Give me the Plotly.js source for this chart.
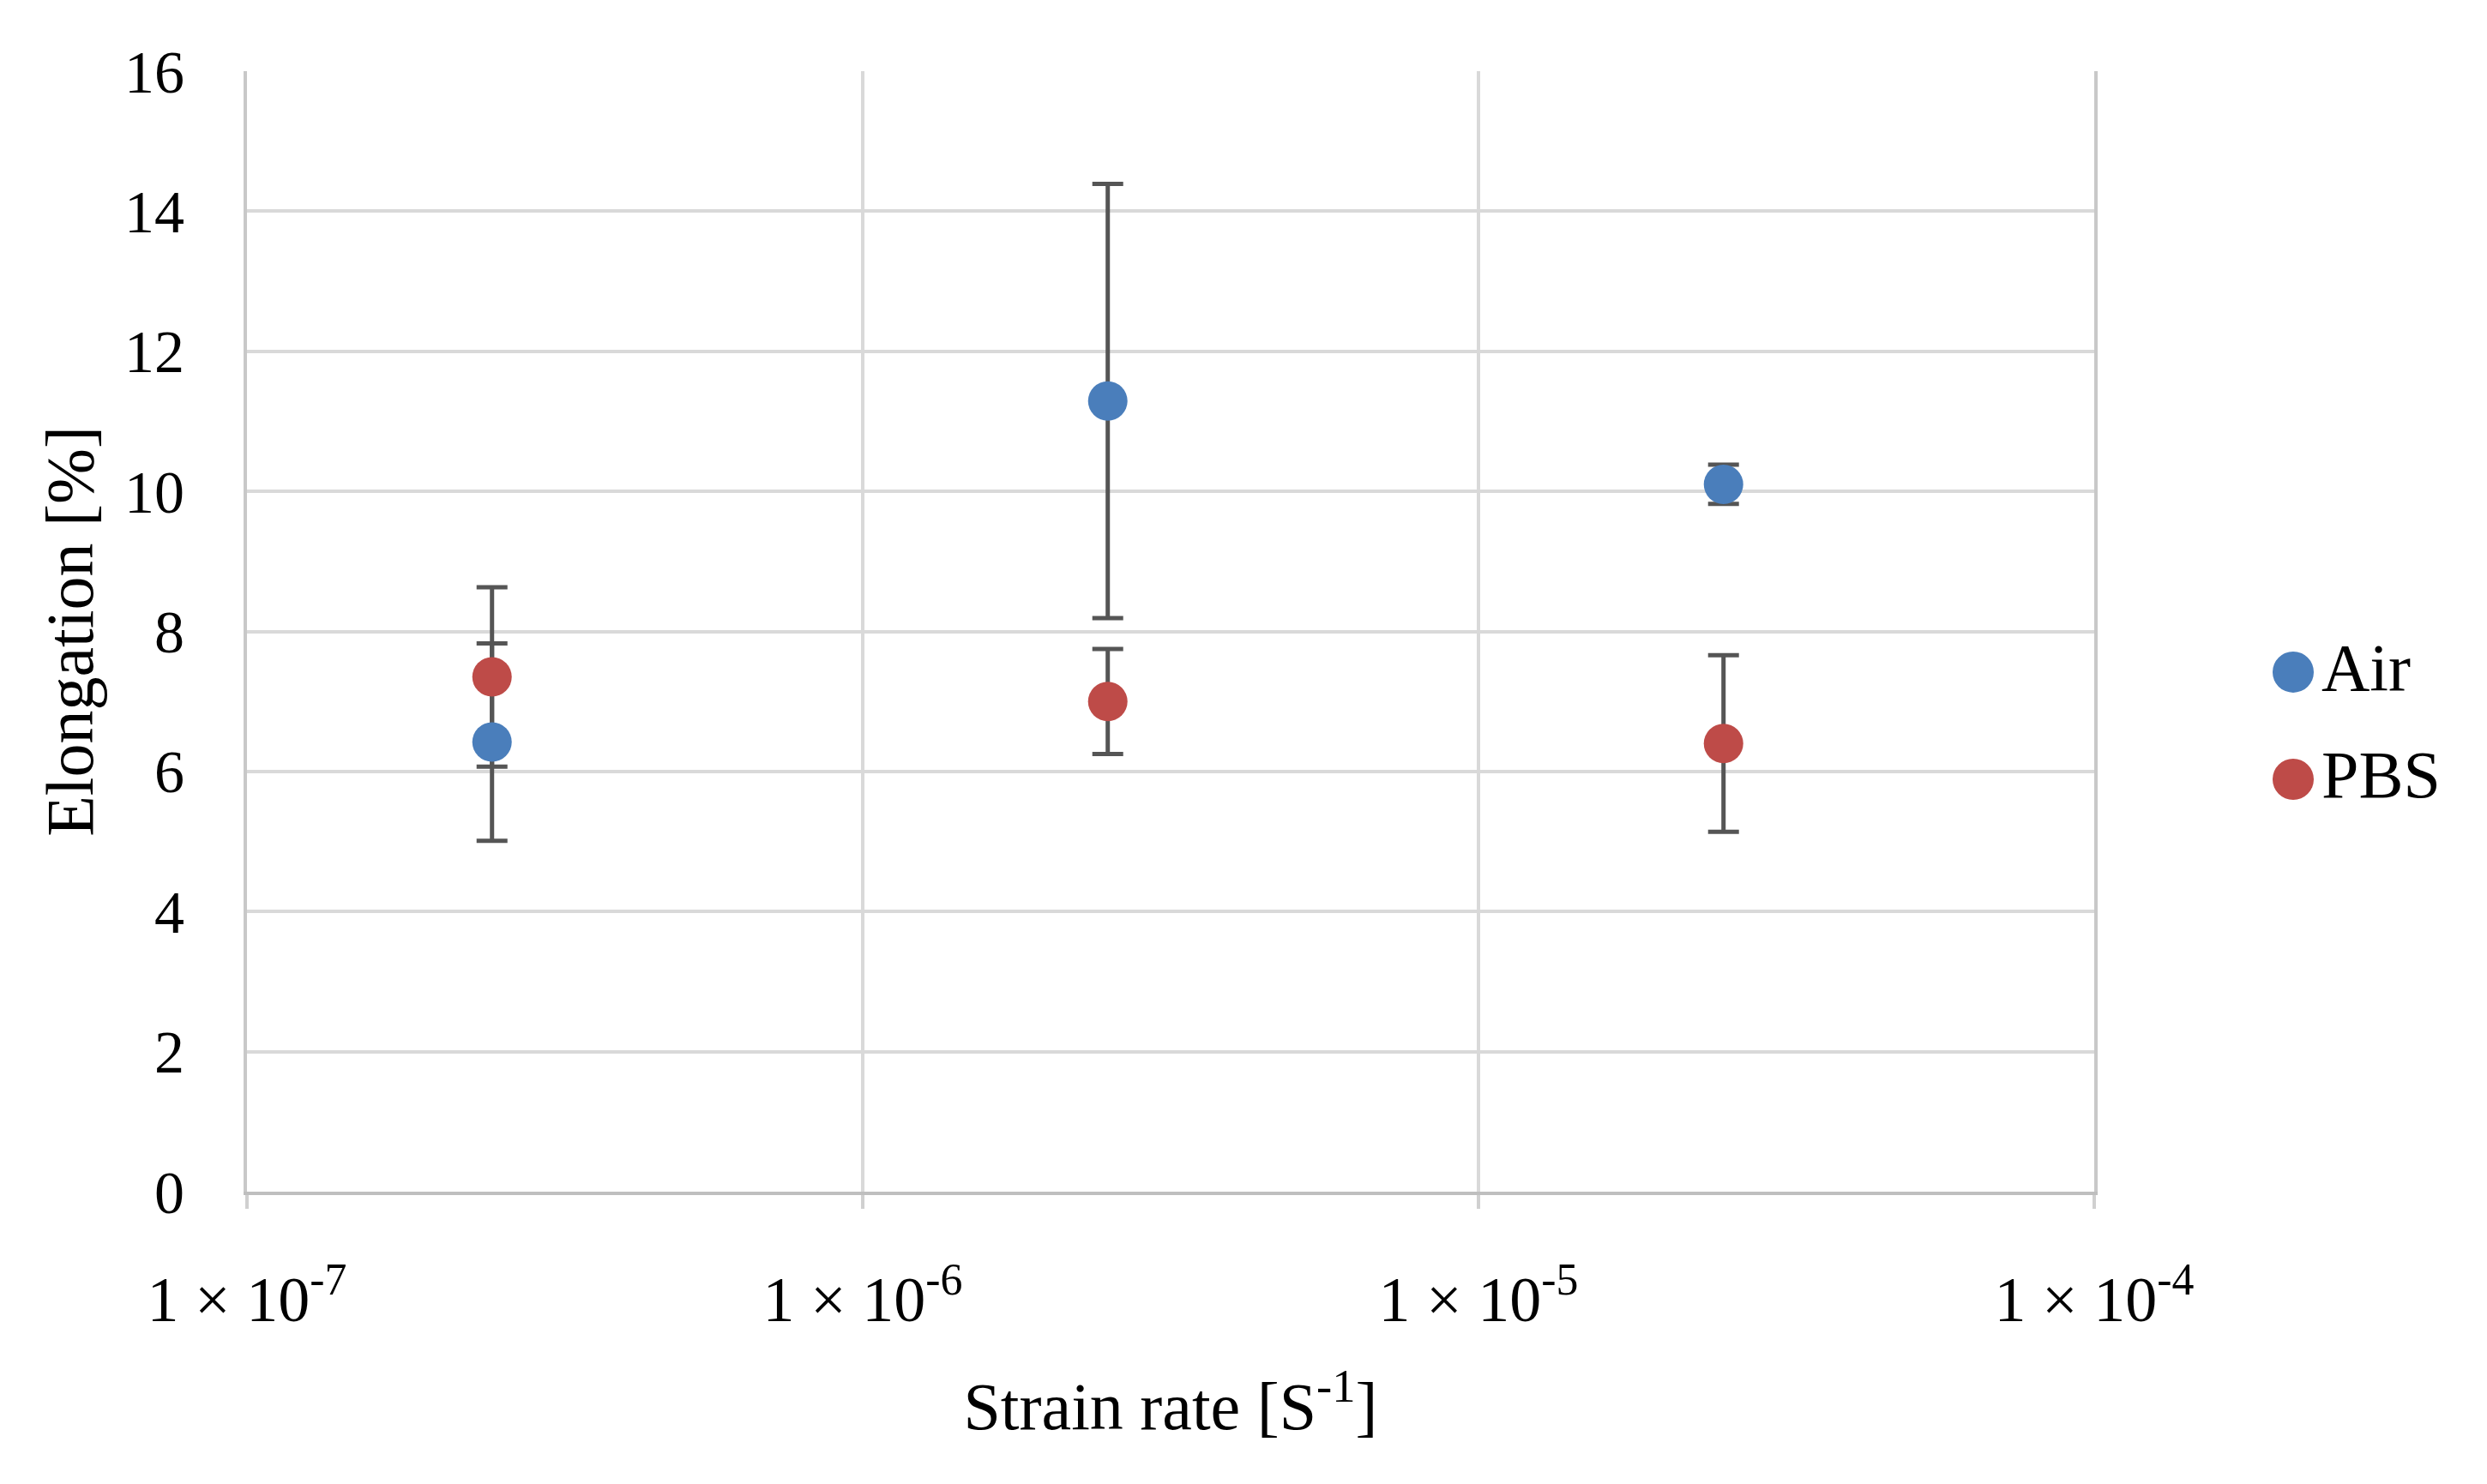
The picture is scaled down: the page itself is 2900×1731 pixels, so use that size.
<!DOCTYPE html>
<html>
<head>
<meta charset="utf-8">
<script src="https://cdn.plot.ly/plotly-3.0.1.min.js"></script>
<style>html,body{margin:0;padding:0;background:#fff;}#chart{width:2900px;height:1731px;}</style>
</head>
<body>
<div id="chart"></div>
<script>
// Data
const strainRate = [2.5e-7, 2.5e-6, 2.5e-5];
const airElong = [6.42, 11.29, 10.10];
const airErr = [1.41, 3.10, 0.28];
const pbsElong = [7.35, 7.00, 6.40];
const pbsErr = [1.28, 0.75, 1.26];
const seriesNames = ['Air', 'PBS'];
const seriesColors = ['#4A7EBB', '#BE4B48'];
const xTickVals = [1e-7, 1e-6, 1e-5, 1e-4];
const xTickText = ['1 × 10<sup>-7</sup>', '1 × 10<sup>-6</sup>', '1 × 10<sup>-5</sup>', '1 × 10<sup>-4</sup>'];

const FONT = 'Liberation Serif, Times New Roman, serif';
const errStyle = (arr) => ({type: 'data', array: arr, visible: true, color: '#555555', thickness: 5, width: 18});

const traces = [
  {x: strainRate, y: airElong, mode: 'markers', marker: {opacity: 0, size: 2}, error_y: errStyle(airErr), showlegend: false, hoverinfo: 'skip'},
  {x: strainRate, y: pbsElong, mode: 'markers', marker: {opacity: 0, size: 2}, error_y: errStyle(pbsErr), showlegend: false, hoverinfo: 'skip'},
  {x: strainRate, y: airElong, name: seriesNames[0], mode: 'markers', marker: {color: seriesColors[0], size: 46}, showlegend: false},
  {x: strainRate, y: pbsElong, name: seriesNames[1], mode: 'markers', marker: {color: seriesColors[1], size: 46}, showlegend: false}
];

const legendY = [0.4637, 0.368];
const shapes = [];
const annotations = [];
seriesNames.forEach((n, i) => {
  shapes.push({type: 'circle', xref: 'paper', yref: 'paper', xsizemode: 'pixel', ysizemode: 'pixel',
    xanchor: 1.1077, yanchor: legendY[i], x0: -24, x1: 24, y0: -24, y1: 24,
    fillcolor: seriesColors[i], line: {width: 0}});
  annotations.push({xref: 'paper', yref: 'paper', x: 1.122, y: legendY[i] + 0.004, xanchor: 'left', yanchor: 'middle',
    text: n, showarrow: false, font: {family: FONT, size: 78, color: '#000'}});
});

const layout = {
  width: 2900, height: 1731,
  margin: {l: 288, r: 458, t: 83, b: 341},
  paper_bgcolor: '#fff', plot_bgcolor: '#fff',
  font: {family: FONT, color: '#000'},
  showlegend: false,
  xaxis: {
    type: 'log', range: [-7, -4], tickvals: xTickVals, ticktext: xTickText,
    showgrid: true, gridcolor: '#D9D9D9', gridwidth: 4,
    showline: true, linecolor: '#BFBFBF', linewidth: 4, mirror: false,
    ticks: 'outside', ticklen: 16, tickwidth: 4, tickcolor: '#D0D0D0',
    tickfont: {family: FONT, size: 74, color: '#000'},
    ticklabelstandoff: 42,
    zeroline: false,
    title: {text: 'Strain rate [S<sup>-1</sup>]', font: {family: FONT, size: 78, color: '#000'}, standoff: 58},
    automargin: false
  },
  yaxis: {
    range: [0, 16], dtick: 2, tick0: 0,
    showgrid: true, gridcolor: '#D9D9D9', gridwidth: 4,
    showline: true, linecolor: '#C8C8C8', linewidth: 4, mirror: true,
    ticks: '', tickfont: {family: FONT, size: 70, color: '#000'},
    ticklabelstandoff: 55,
    zeroline: false,
    title: {text: 'Elongation [%]', font: {family: FONT, size: 78, color: '#000'}, standoff: 12},
    automargin: false
  },
  shapes: shapes,
  annotations: annotations
};

Plotly.newPlot('chart', traces, layout, {displayModeBar: false});
</script>
</body>
</html>
